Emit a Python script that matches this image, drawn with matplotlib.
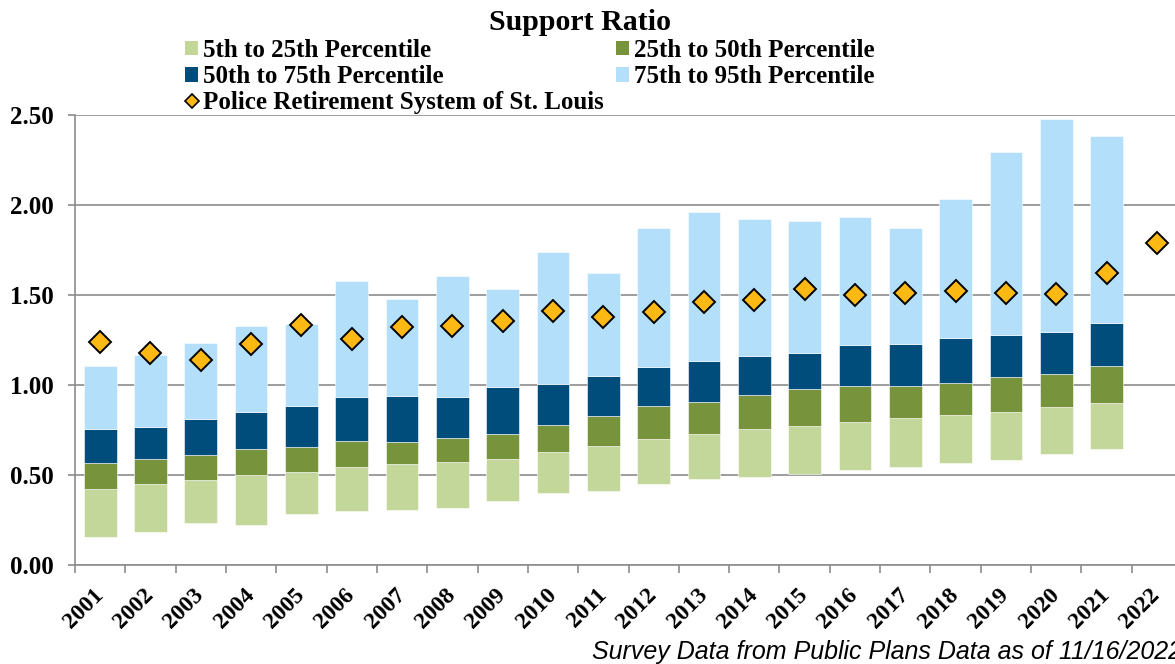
import numpy as np
import matplotlib.pyplot as plt
from matplotlib.lines import Line2D
from matplotlib.patches import Patch

years = [str(y) for y in range(2001, 2023)]

# percentile boundaries (2022 has no survey bars)
p5 = [0.155, 0.185, 0.232, 0.220, 0.281, 0.302, 0.304, 0.317, 0.356, 0.400, 0.413,
      0.448, 0.480, 0.491, 0.505, 0.528, 0.543, 0.567, 0.583, 0.619, 0.646, np.nan]
p25 = [0.420, 0.450, 0.470, 0.502, 0.517, 0.546, 0.559, 0.570, 0.587, 0.628, 0.661,
       0.702, 0.726, 0.754, 0.770, 0.793, 0.819, 0.835, 0.850, 0.876, 0.898, np.nan]
p50 = [0.567, 0.589, 0.609, 0.643, 0.654, 0.689, 0.685, 0.707, 0.728, 0.778, 0.828,
       0.885, 0.906, 0.944, 0.976, 0.993, 0.993, 1.013, 1.044, 1.059, 1.107, np.nan]
p75 = [0.754, 0.765, 0.811, 0.848, 0.881, 0.933, 0.937, 0.933, 0.989, 1.007, 1.048,
       1.100, 1.133, 1.163, 1.180, 1.222, 1.228, 1.261, 1.278, 1.294, 1.344, np.nan]
p95 = [1.105, 1.165, 1.233, 1.330, 1.337, 1.578, 1.478, 1.606, 1.533, 1.739, 1.622,
       1.872, 1.961, 1.922, 1.910, 1.931, 1.872, 2.035, 2.293, 2.476, 2.381, np.nan]
plan = [1.239, 1.180, 1.139, 1.228, 1.333, 1.256, 1.325, 1.328, 1.356, 1.409, 1.376,
        1.407, 1.461, 1.472, 1.533, 1.500, 1.513, 1.522, 1.513, 1.506, 1.624, 1.791]

c_lg = "#C4D79B"
c_gr = "#77933C"
c_db = "#004C7A"
c_lb = "#B3DFFB"
c_dm = "#FDB913"

serif = "Liberation Serif"

fig = plt.figure(figsize=(11.75, 6.64), dpi=100)
ax = fig.add_axes([75 / 1175, 1 - 565 / 664, 1107 / 1175, 450 / 664])

x = np.arange(len(years))
segs = [(p5, p25, c_lg), (p25, p50, c_gr), (p50, p75, c_db), (p75, p95, c_lb)]
for a, b, col in segs:
    a = np.array(a)
    b = np.array(b)
    ax.bar(x, b - a, bottom=a, width=0.65, color=col, edgecolor="white",
           linewidth=0.4, zorder=2)

ax.plot(x, plan, linestyle="none", marker="D", markersize=11,
        markerfacecolor=c_dm, markeredgecolor="black", markeredgewidth=1.4, zorder=3)

ax.set_xlim(-0.5, len(years) - 0.5)
ax.set_ylim(0, 2.5)
ax.set_yticks(np.arange(0, 2.51, 0.5))
ax.set_yticklabels([f"{v:.2f}" for v in np.arange(0, 2.51, 0.5)],
                   fontfamily=serif, fontweight="bold", fontsize=18)
ax.yaxis.grid(True, color="#8C8C8C", linewidth=1.2, zorder=0)
ax.set_axisbelow(True)

ax.set_xticks(np.arange(-0.5, len(years), 1.0))
ax.set_xticklabels([])
ax.set_xticks(x, minor=True)
ax.set_xticklabels(years, minor=True, fontfamily=serif, fontweight="bold",
                   fontsize=17, rotation=45, ha="right", va="center",
                   rotation_mode="anchor")
ax.tick_params(axis="x", which="major", length=6, width=1.2, color="#8C8C8C",
               direction="out")
ax.tick_params(axis="x", which="minor", length=0, pad=19)
ax.tick_params(axis="y", length=5, width=1.2, color="#8C8C8C", pad=10)

for s in ("top", "right"):
    ax.spines[s].set_visible(False)
for s in ("left", "bottom"):
    ax.spines[s].set_color("#8C8C8C")
    ax.spines[s].set_linewidth(1.2)

fig.text(580 / 1175, 1 - 22 / 664, "Support Ratio", ha="center", va="center",
         fontfamily=serif, fontweight="bold", fontsize=21.5)

handles = [
    Patch(facecolor=c_lg, label="5th to 25th Percentile"),
    Patch(facecolor=c_db, label="50th to 75th Percentile"),
    Line2D([], [], linestyle="none", marker="D", markersize=7, markerfacecolor=c_dm,
           markeredgecolor="black", markeredgewidth=1.2,
           label="Police Retirement System of St. Louis"),
    Patch(facecolor=c_gr, label="25th to 50th Percentile"),
    Patch(facecolor=c_lb, label="75th to 95th Percentile"),
]
fig.legend(handles=handles, ncol=2, loc="upper left",
           bbox_to_anchor=(185 / 1175, 1 - 39 / 664), frameon=False,
           prop={"family": serif, "weight": "bold", "size": 18},
           handlelength=0.52, handleheight=0.52, handletextpad=0.2,
           columnspacing=0.5, labelspacing=0.13, borderpad=0, borderaxespad=0)

fig.text(592 / 1175, 1 - 652 / 664, "Survey Data from Public Plans Data as of 11/16/2022",
         ha="left", va="center", fontfamily="Liberation Sans", fontstyle="italic",
         fontsize=18)

fig.savefig("out.png", dpi=100)
